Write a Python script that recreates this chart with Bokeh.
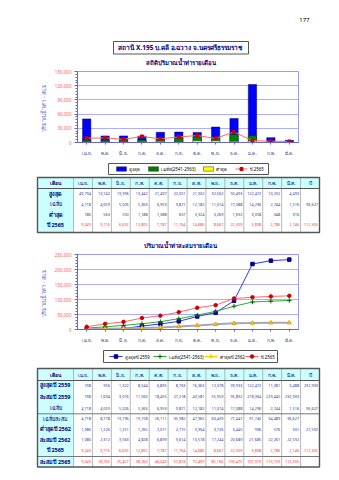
from bokeh.plotting import figure
from bokeh.layouts import column
from bokeh.models import (Range1d, FactorRange, SingleIntervalTicker,
                          NumeralTickFormatter)
from bokeh.embed import file_html
from bokeh.resources import INLINE
from bokeh.core.properties import value

# ---------------- data ----------------
page_number = "177"
station_title = "สถานี X.195 บ.คลี อ.ฉวาง  จ.นครศรีธรรมราช"
chart1_title = "สถิติปริมาณน้ำท่ารายเดือน"
chart2_title = "ปริมาณน้ำท่าสะสมรายเดือน"
y_label = "ปริมาณน้ำท่า - ลบ.ม."

months = ["เม.ย.", "พ.ค.", "มิ.ย.", "ก.ค.", "ส.ค.", "ก.ย.",
          "ต.ค.", "พ.ย.", "ธ.ค.", "ม.ค.", "ก.พ.", "มี.ค."]

max_monthly = [49794, 13742, 13996, 13442, 21497, 22051, 21332, 32562, 50493, 122472, 10232, 4493]
mean_monthly = [4718, 4059, 5026, 5363, 6953, 9871, 12182, 11074, 17088, 14296, 2744, 1516]
mean_annual = 96627
min_monthly = [186, 563, 550, 1188, 1388, 657, 3324, 3269, 1692, 3058, 348, 316]
y2565_monthly = [9049, 9716, 6692, 12805, 7787, 11764, 14686, 8667, 22309, 3898, 2786, 2146]
y2565_annual = 112305

max2559_monthly = [738, 956, 1322, 8544, 6895, 8763, 16363, 12378, 39933, 122472, 11081, 3488]
max2559_annual = 232933
max2559_cum = [738, 1694, 3016, 11560, 18455, 27218, 43581, 55959, 95892, 218364, 229445, 232933]
mean_cum = [4718, 8778, 13796, 19158, 26111, 35982, 47965, 60439, 77447, 91745, 94489, 96627]
min2562_monthly = [1086, 1226, 1251, 1265, 2071, 2715, 3904, 3726, 3445, 996, 576, 331]
min2562_annual = 22592
min2562_cum = [1086, 2312, 3563, 4828, 6899, 9614, 13518, 17244, 20689, 21685, 22261, 22592]
y2565_cum = [9049, 18765, 25457, 38262, 46049, 57813, 72499, 81166, 103475, 107373, 110159, 112305]

legend1_labels = ["สูงสุด", "เฉลี่ย(2541-2563)", "ต่ำสุด", "ปี 2565"]
legend2_labels = ["สูงสุดปี 2559", "เฉลี่ย(2541-2563)", "ต่ำสุดปี 2562", "ปี 2565"]
table_header = ["เดือน"] + months + ["ปี"]
table1_labels = ["สูงสุด", "เฉลี่ย", "ต่ำสุด", "ปี 2565"]
table2_labels = ["สูงสุดปี 2559", "สะสมปี 2559", "เฉลี่ย", "เฉลี่ยสะสม",
                 "ต่ำสุดปี 2562", "สะสมปี 2562", "ปี 2565", "สะสมปี 2565"]

# ---------------- style ----------------
W = 339
FONT = "Noto Sans"
NAVY = "#000080"
NUM = "#333399"
RED = "#FF3333"
AXIS = "#6666CC"
GRID = "#9999FF"
TICKLAB = "#FF5555"
CYAN = "#CCFFFF"

C_MAX, C_MEAN, C_MIN = "#0000FF", "#008000", "#FFFF00"
L_MAX, L_MEAN, L_MIN, L_65 = "#3333FF", "#33AA33", "#AAAAAA", "#FF6666"
M_MAX, M_MEAN, M_MIN, M_65 = "#000099", "#006600", "#FFD700", "#CC0000"


def fmt(v):
    return "" if v is None else f"{v:,}"


def deco(y0, y1):
    p = figure(width=W, height=y1 - y0, x_range=Range1d(0, W), y_range=Range1d(y1, y0),
               output_backend="svg", toolbar_location=None, min_border=0,
               x_axis_location=None, y_axis_location=None, frame_align=False)
    p.grid.visible = False
    p.outline_line_color = None
    p.background_fill_color = "white"
    p.border_fill_color = "white"
    return p


def txt(p, x, y, s, size, color, align="center", bold=False):
    p.text(x=[x], y=[y], text=[s], text_font=value(FONT), text_font_size=size,
           text_color=color, text_align=align, text_baseline="middle",
           text_font_style="bold" if bold else "normal")


def chart(height, top, frame_h, ymax, interval):
    p = figure(width=W, height=height, x_range=FactorRange(*months),
               y_range=Range1d(0, ymax), output_backend="svg", toolbar_location=None,
               min_border_left=77, min_border_right=41, min_border_top=top,
               min_border_bottom=height - top - frame_h, frame_align=False)
    p.background_fill_color = "white"
    p.border_fill_color = "white"
    p.outline_line_color = GRID
    p.xgrid.grid_line_color = None
    p.ygrid.grid_line_color = GRID
    p.ygrid.grid_line_width = 0.8
    ya = p.yaxis[0]
    ya.ticker = SingleIntervalTicker(interval=interval, num_minor_ticks=5)
    ya.formatter = NumeralTickFormatter(format="0,0")
    ya.major_label_text_font = FONT
    ya.major_label_text_font_size = "4.5px"
    ya.major_label_text_color = TICKLAB
    ya.axis_line_color = AXIS
    ya.major_tick_line_color = AXIS
    ya.minor_tick_line_color = AXIS
    ya.major_tick_in = 0
    ya.major_tick_out = 3
    ya.minor_tick_in = 0
    ya.minor_tick_out = 2
    ya.major_label_standoff = 3
    ya.axis_label = y_label
    ya.axis_label_text_font = FONT
    ya.axis_label_text_font_size = "5.5px"
    ya.axis_label_text_font_style = "normal"
    ya.axis_label_text_color = AXIS
    ya.axis_label_standoff = 4
    xa = p.xaxis[0]
    xa.major_label_text_font = FONT
    xa.major_label_text_font_size = "4.5px"
    xa.major_label_text_color = NUM
    xa.axis_line_color = AXIS
    xa.major_tick_line_color = AXIS
    xa.major_tick_in = 0
    xa.major_tick_out = 2
    xa.major_label_standoff = 5
    return p


def legend_box(p, left, right, top, bottom, keys, labels, text_x):
    p.quad(left=[left], right=[right], top=[top], bottom=[bottom], fill_color="white",
           line_color="#555555", line_width=1)
    cy = (top + bottom) / 2
    for k, lab, tx in zip(keys, labels, text_x):
        kind = k[0]
        if kind == "bar":
            _, x0, x1, col = k
            p.quad(left=[x0], right=[x1], top=[cy - 2.2], bottom=[cy + 2.2], fill_color=col,
                   line_color="#333333", line_width=0.5)
        else:
            _, x0, x1, lcol, marker, mcol, size = k
            p.segment(x0=[x0], y0=[cy], x1=[x1], y1=[cy], line_color=lcol, line_width=1.2)
            p.scatter(x=[(x0 + x1) / 2], y=[cy], marker=marker, size=size,
                      fill_color=mcol, line_color=mcol)
        txt(p, tx, cy, lab, "4.4px", "#000000", align="left")


TX0, TX1, LABX = 37, 319, 73
CW = (TX1 - LABX) / 13.0


def table(p, top, hdr_bottom, bottom, centers, labels, monthly, annual, colors, bolds, hlines):
    p.quad(left=[TX0], right=[TX1], top=[top], bottom=[hdr_bottom], fill_color=CYAN, line_color=None)
    p.quad(left=[TX0], right=[LABX], top=[hdr_bottom], bottom=[bottom], fill_color=CYAN, line_color=None)
    xs = [LABX + i * CW for i in range(13)]
    p.segment(x0=xs, y0=[top] * 13, x1=xs, y1=[bottom] * 13, line_color="#9A9A9A", line_width=0.7)
    p.segment(x0=[TX0], y0=[hdr_bottom], x1=[TX1], y1=[hdr_bottom], line_color="#555555", line_width=1.2)
    for hy in hlines:
        p.segment(x0=[TX0], y0=[hy], x1=[TX1], y1=[hy], line_color="#777777", line_width=1)
    p.quad(left=[TX0], right=[TX1], top=[top], bottom=[bottom], fill_color=None,
           line_color="#555555", line_width=1.4)
    hy = (top + hdr_bottom) / 2
    for i, h in enumerate(table_header):
        cx = (TX0 + LABX) / 2 if i == 0 else LABX + (i - 0.5) * CW
        txt(p, cx, hy, h, "5px", NAVY, bold=(i == 0))
    for r, lab in enumerate(labels):
        cy = centers[r]
        txt(p, (TX0 + LABX) / 2, cy, lab, "5.5px", NAVY, bold=bolds[r])
        xs_r = [LABX + (j + 1) * CW - 1.5 for j in range(12)]
        p.text(x=xs_r, y=[cy] * 12, text=[fmt(v) for v in monthly[r]], text_font=value(FONT),
               text_font_size="3.8px", text_color=colors[r], text_align="right",
               text_baseline="middle")
        if annual[r] is not None:
            txt(p, LABX + 13 * CW - 1.5, cy, fmt(annual[r]), "3.8px", colors[r], align="right")


# ---------------- header ----------------
fa = deco(0, 66)
txt(fa, 309, 19, page_number, "6px", "#000000", align="right")
fa.quad(left=[113], right=[248], top=[41], bottom=[53.5], fill_color="white",
        line_color="#555555", line_width=1)
txt(fa, 180.5, 47.3, station_title, "6.5px", NAVY, bold=True)
txt(fa, 180, 62, chart1_title, "6px", NAVY, bold=True)

# ---------------- chart 1 ----------------
p1 = chart(94, 5, 71, 150000, 30000)
p1.vbar(x=months, top=max_monthly, width=0.45, fill_color=C_MAX, line_color="#000066", line_width=0.5)
p1.vbar(x=months, top=mean_monthly, width=0.45, fill_color=C_MEAN, line_color="#004400", line_width=0.5)
p1.vbar(x=months, top=min_monthly, width=0.45, fill_color=C_MIN, line_color="#999900", line_width=0.5)
p1.line(x=months, y=y2565_monthly, line_color=L_65, line_width=1)
p1.scatter(x=months, y=y2565_monthly, marker="square", size=3, fill_color=M_65, line_color=M_65)

# ---------------- legend 1 + table 1 ----------------
fc = deco(160, 248)
legend_box(fc, 108, 268, 163, 174,
           [("bar", 116, 126, C_MAX), ("bar", 148, 158, C_MEAN), ("bar", 203, 213, C_MIN),
            ("line", 235, 247, L_65, "square", M_65, 3)],
           legend1_labels, [128, 160, 215, 249])
table(fc, 177, 188, 232, [193, 203.5, 214, 224],
      table1_labels,
      [max_monthly, mean_monthly, min_monthly, y2565_monthly],
      [None, mean_annual, None, y2565_annual],
      [NUM, NUM, NUM, RED], [True, False, True, True], [])
txt(fc, 180, 245, chart2_title, "6px", NAVY, bold=True)

# ---------------- chart 2 ----------------
p2 = chart(98, 6, 75, 250000, 50000)
p2.line(x=months, y=max2559_cum, line_color=L_MAX, line_width=1)
p2.scatter(x=months, y=max2559_cum, marker="square", size=3.5, fill_color=M_MAX, line_color=M_MAX)
p2.line(x=months, y=mean_cum, line_color=L_MEAN, line_width=1)
p2.scatter(x=months, y=mean_cum, marker="cross", size=4.5, line_color=M_MEAN, line_width=1)
p2.line(x=months, y=min2562_cum, line_color=L_MIN, line_width=2)
p2.scatter(x=months, y=min2562_cum, marker="triangle", size=4, fill_color=M_MIN, line_color="#E0A000")
p2.line(x=months, y=y2565_cum, line_color=L_65, line_width=1)
p2.scatter(x=months, y=y2565_cum, marker="circle", size=3.5, fill_color=M_65, line_color=M_65)

# ---------------- legend 2 + table 2 ----------------
fe = deco(346, 480)
legend_box(fe, 103, 277, 350, 362,
           [("line", 109, 122, L_MAX, "square", M_MAX, 3.5),
            ("line", 153, 166, L_MEAN, "cross", M_MEAN, 4.5),
            ("line", 204, 217, "#FFCC00", "triangle", M_MIN, 4),
            ("line", 245, 258, L_65, "circle", M_65, 3.5)],
           legend2_labels, [124, 168, 219, 260])
table(fe, 368, 380, 466.5, [384.5, 396, 407.5, 418.3, 428.6, 439, 449.7, 461.3],
      table2_labels,
      [max2559_monthly, max2559_cum, mean_monthly, mean_cum,
       min2562_monthly, min2562_cum, y2565_monthly, y2565_cum],
      [max2559_annual, None, mean_annual, None, min2562_annual, None, y2565_annual, None],
      [NUM, NUM, NUM, NUM, NUM, NUM, RED, RED],
      [True, True, False, False, True, True, True, True],
      [413.3, 456])

layout = column(fa, p1, fc, p2, fe, spacing=0)
open("out.html", "w").write(file_html(layout, INLINE))
